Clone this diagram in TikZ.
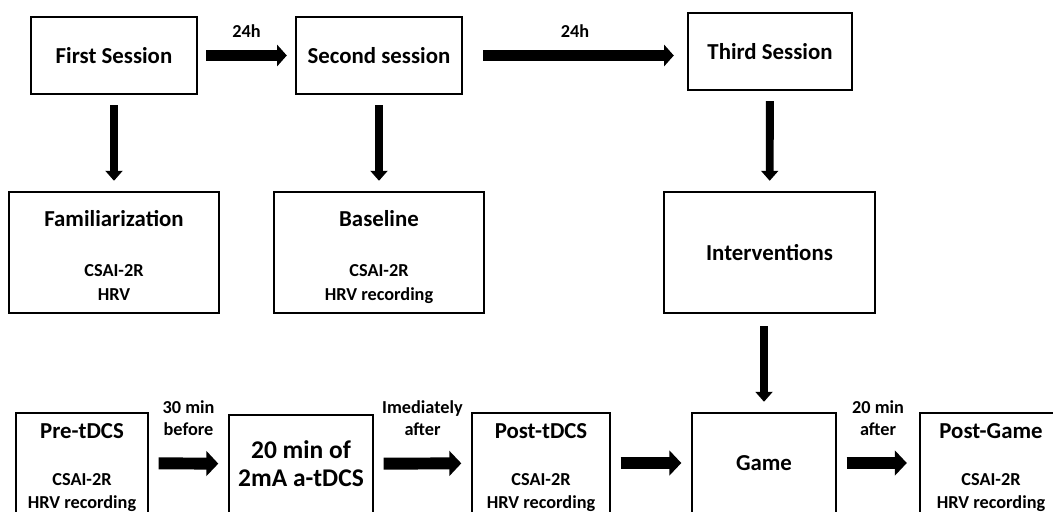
\documentclass[tikz,border=0pt]{standalone}
\usepackage{fontspec}
\setmainfont{Carlito}
\usetikzlibrary{arrows.meta}

\newcommand{\fonttitle}{\fontsize{13}{15}\selectfont}
\newcommand{\fontnote}{\fontsize{10.4}{13.4}\selectfont}
\newcommand{\fontbig}{\fontsize{14.5}{16}\selectfont}
\newcommand{\fontlbl}{\fontsize{10.4}{12.5}\selectfont}
\newcommand{\boxtop}{\rule{0pt}{14pt}}

\tikzset{
  sbox/.style={draw, line width=1.4pt, align=center, inner sep=0pt, font=\bfseries\fontnote},
  harrow/.style={line width=5.7pt, -{Triangle[width=12pt,length=5.5pt]}, shorten <=0.16cm, shorten >=0.16cm},
  varrow/.style={line width=4.5pt, -{Triangle[width=9.6pt,length=5.7pt]}, shorten <=0.2cm, shorten >=0.2cm},
  barrow/.style={line width=6.8pt, -{Triangle[width=14pt,length=6.8pt]}, shorten <=0.19cm, shorten >=0.19cm},
  lbl/.style={font=\bfseries\fontlbl, align=center},
}

\begin{document}
\begin{tikzpicture}[x=0.02cm, y=-0.02cm]
    \useasboundingbox (0,0) rectangle (1053,511);
    \clip (0,0) rectangle (1053,511);

    % sessions
    \node[sbox, minimum width=3.32cm, minimum height=1.54cm, font=\bfseries\fonttitle] (first) at (114,55.5) {First Session};
    \node[sbox, minimum width=3.32cm, minimum height=1.54cm, font=\bfseries\fonttitle] (second) at (379,55.5) {Second session};
    \node[sbox, minimum width=3.28cm, minimum height=1.54cm, font=\bfseries\fonttitle] (third) at (770,51.5) {Third Session};

    \node[sbox, minimum width=4.2cm, minimum height=2.42cm] (famil) at (114,252.5) {\boxtop{\fonttitle Familiarization}\\[15.5pt]CSAI-2R\\HRV\vphantom{g}};
    \node[sbox, minimum width=4.2cm, minimum height=2.42cm] (baseline) at (379,252.5) {\boxtop{\fonttitle Baseline}\\[15.5pt]CSAI-2R\\HRV recording};
    \node[sbox, minimum width=4.22cm, minimum height=2.42cm, font=\bfseries\fonttitle] (interv) at (769.5,252.5) {Interventions};

    % third session protocol
    \node[sbox, minimum width=2.64cm, minimum height=2cm] (pre) at (82,463) {\boxtop{\fonttitle Pre-tDCS}\\[13pt]CSAI-2R\\HRV recording};
    \node[sbox, minimum width=2.88cm, minimum height=1.96cm, font=\bfseries\fontbig] (stim) at (301,464) {20 min of\\2mA a-tDCS};
    \node[sbox, minimum width=2.76cm, minimum height=2cm] (post) at (541,463) {\boxtop{\fonttitle Post-tDCS}\\[13pt]CSAI-2R\\HRV recording};
    \node[sbox, minimum width=2.88cm, minimum height=2cm, font=\bfseries\fonttitle] (game) at (764,463) {Game};
    \node[sbox, minimum width=2.84cm, minimum height=2cm] (postg) at (991,463) {\boxtop{\fonttitle Post-Game}\\[13pt]CSAI-2R\\HRV recording};

    \draw[harrow] (first) -- node[lbl, above=4pt] {24h} (second);
    \draw[harrow, shorten <=0.4cm, shorten >=0.26cm] (second) -- node[lbl, above=4pt] {24h} (second -| third.west);

    \draw[varrow] (first) -- (famil);
    \draw[varrow] (second) -- (baseline);
    \draw[varrow] (third) -- (interv);
    \draw[varrow, shorten <=0.24cm] (interv.south -| game.north) -- (game.north);

    \draw[barrow] (pre) -- node[lbl, above=9pt] {30 min\\before} (stim);
    \draw[barrow] (stim) -- node[lbl, above=9pt] {Imediately\\after} (post);
    \draw[barrow] (post) -- (game);
    \draw[barrow, shorten >=0.24cm] (game) -- node[lbl, above=9pt] {20 min\\after} (postg);
\end{tikzpicture}
\end{document}
